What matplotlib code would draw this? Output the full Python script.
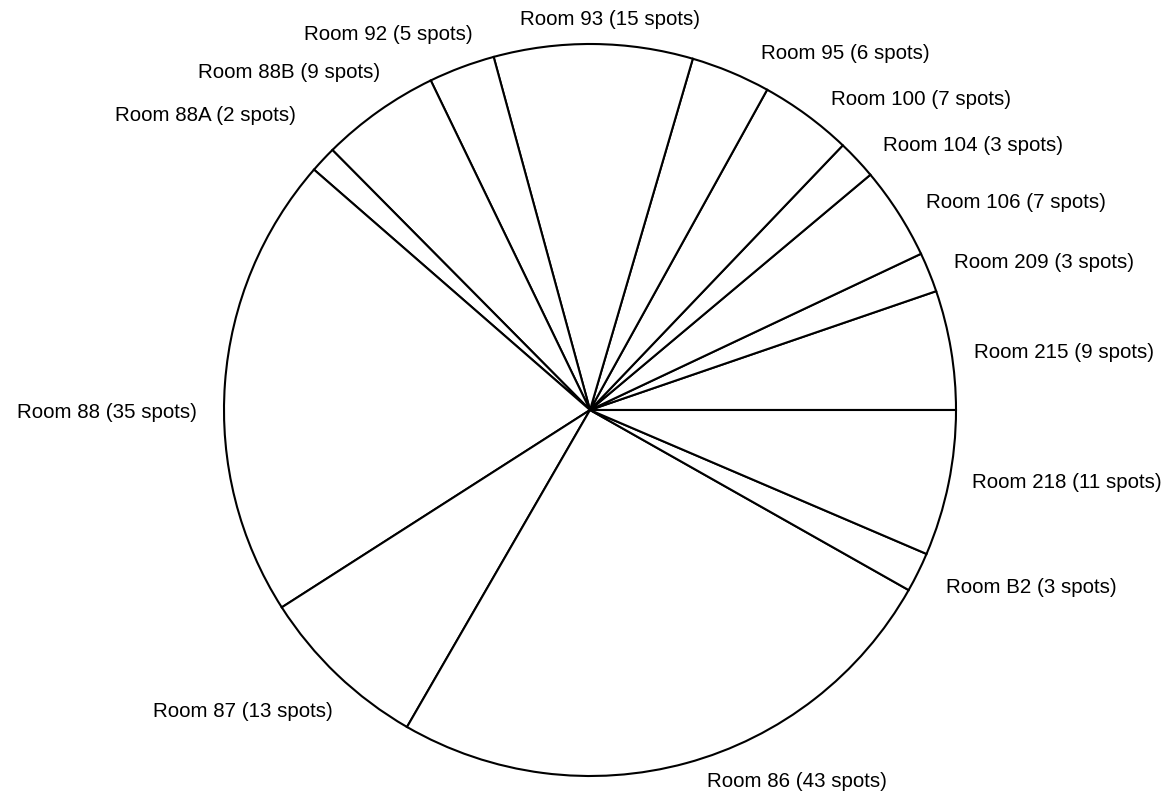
import matplotlib.pyplot as plt

plt.rcParams["font.family"] = ["Liberation Sans", "DejaVu Sans"]

# 各房间及车位数（从正东方向起逆时针排列）
rooms = ["Room 215", "Room 209", "Room 106", "Room 104", "Room 100", "Room 95",
         "Room 93", "Room 92", "Room 88B", "Room 88A", "Room 88", "Room 87",
         "Room 86", "Room B2", "Room 218"]
spots = [9, 3, 7, 3, 7, 6, 15, 5, 9, 2, 35, 13, 43, 3, 11]

# 标签位置（以饼图半径为单位）
label_pos = [(1.295, 0.158), (1.240, 0.404), (1.164, 0.566), (1.046, 0.724),
             (0.904, 0.847), (0.697, 0.975), (0.055, 1.068), (-0.552, 1.025),
             (-0.822, 0.921), (-1.052, 0.806), (-1.320, -0.008), (-0.948, -0.825),
             (0.566, -1.016), (1.205, -0.486), (1.303, -0.199)]

fig = plt.figure(figsize=(11.75, 7.96), dpi=100)
ax = fig.add_axes([0, 0, 1, 1])

ax.pie(spots, startangle=0, counterclock=True, radius=1.0,
       colors=["white"] * len(spots),
       wedgeprops=dict(edgecolor="black", linewidth=1.5))

for name, n, (x, y) in zip(rooms, spots, label_pos):
    ax.text(x, y, f"{name} ({n} spots)", ha="center", va="center",
            fontsize=14.8, color="black")

# 画布范围：半径 1 对应约 366 像素，圆心位于 (590, 410)
ax.set_xlim(-590 / 366, (1175 - 590) / 366)
ax.set_ylim((410 - 796) / 366, 410 / 366)
ax.set_aspect("equal")
ax.axis("off")

plt.savefig("out.png", dpi=100, facecolor="white")
